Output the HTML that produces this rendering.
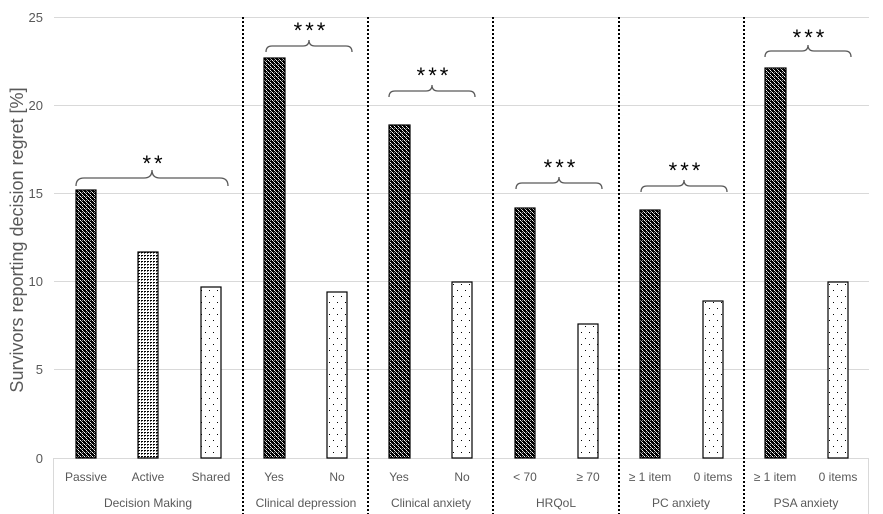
<!DOCTYPE html>
<html><head><meta charset="utf-8"><style>body{margin:0;background:#fff}svg{display:block}</style></head>
<body>
<svg width="883" height="514" viewBox="0 0 883 514" xmlns="http://www.w3.org/2000/svg" font-family="Liberation Sans, sans-serif">
<defs>
<pattern id="dk" width="4" height="4" patternUnits="userSpaceOnUse">
<rect width="4" height="4" fill="#000"/>
<rect x="0" y="0" width="1" height="1" fill="#fff"/><rect x="2" y="2" width="1" height="1" fill="#fff"/>
<rect x="1" y="1" width="1" height="1" fill="#bbb"/><rect x="3" y="3" width="1" height="1" fill="#bbb"/>
<rect x="2" y="0" width="1" height="1" fill="#888"/>
</pattern>
<pattern id="md" width="3" height="3" patternUnits="userSpaceOnUse">
<rect width="3" height="3" fill="#fff"/><rect width="2" height="1" fill="#000"/><rect y="1" width="1" height="1" fill="#666"/>
</pattern>
<pattern id="sp" width="8" height="12" patternUnits="userSpaceOnUse">
<rect width="8" height="12" fill="#fff"/><rect x="1" y="2" width="1" height="1" fill="#000"/><rect x="5" y="8" width="1" height="1" fill="#000"/>
</pattern>
</defs>
<g stroke="#d9d9d9" stroke-width="1">
<line x1="54" x2="869" y1="17.5" y2="17.5"/>
<line x1="54" x2="869" y1="105.5" y2="105.5"/>
<line x1="54" x2="869" y1="193.5" y2="193.5"/>
<line x1="54" x2="869" y1="281.5" y2="281.5"/>
<line x1="54" x2="869" y1="369.5" y2="369.5"/>
<line x1="54" x2="869" y1="458.5" y2="458.5"/>
<line x1="53.5" x2="53.5" y1="458" y2="514"/>
<line x1="868.5" x2="868.5" y1="458" y2="514"/>
</g>
<g fill="#595959" font-size="13" text-anchor="end">
<text x="43" y="22">25</text><text x="43" y="110">20</text><text x="43" y="198">15</text>
<text x="43" y="286">10</text><text x="43" y="374">5</text><text x="43" y="463">0</text>
</g>
<text transform="translate(23,240) rotate(-90)" text-anchor="middle" font-size="18" fill="#595959">Survivors reporting decision regret  [%]</text>
<g stroke="#000" stroke-width="2" stroke-dasharray="2,2">
<line x1="243" x2="243" y1="17" y2="514"/><line x1="368" x2="368" y1="17" y2="514"/>
<line x1="493" x2="493" y1="17" y2="514"/><line x1="619" x2="619" y1="17" y2="514"/>
<line x1="744" x2="744" y1="17" y2="514"/>
</g>
<g stroke="#000" stroke-width="1.2">
<rect x="76" y="190" width="20" height="268" fill="url(#dk)"/>
<rect x="138" y="252" width="20" height="206" fill="url(#md)"/>
<rect x="201" y="287" width="20" height="171" fill="url(#sp)"/>
<rect x="264" y="58" width="21" height="400" fill="url(#dk)"/>
<rect x="327" y="292" width="20" height="166" fill="url(#sp)"/>
<rect x="389" y="125" width="21" height="333" fill="url(#dk)"/>
<rect x="452" y="282" width="20" height="176" fill="url(#sp)"/>
<rect x="515" y="208" width="20" height="250" fill="url(#dk)"/>
<rect x="578" y="324" width="20" height="134" fill="url(#sp)"/>
<rect x="640" y="210" width="20" height="248" fill="url(#dk)"/>
<rect x="703" y="301" width="20" height="157" fill="url(#sp)"/>
<rect x="765" y="68" width="21" height="390" fill="url(#dk)"/>
<rect x="828" y="282" width="20" height="176" fill="url(#sp)"/>
</g>
<g fill="none" stroke="#595959" stroke-width="1.3">
<path d="M76,186 q0,-8 8,-8 h60 q8,0 8,-8 q0,8 8,8 h60 q8,0 8,8"/>
<path d="M266,52 q0,-6 6,-6 h31 q6,0 6,-6 q0,6 6,6 h31 q6,0 6,6"/>
<path d="M389,97 q0,-6 6,-6 h31 q6,0 6,-6 q0,6 6,6 h31 q6,0 6,6"/>
<path d="M516,189 q0,-6 6,-6 h31 q6,0 6,-6 q0,6 6,6 h31 q6,0 6,6"/>
<path d="M641,192 q0,-6 6,-6 h31 q6,0 6,-6 q0,6 6,6 h31 q6,0 6,6"/>
<path d="M765,57 q0,-6 6,-6 h31 q6,0 6,-6 q0,6 6,6 h31 q6,0 6,6"/>
</g>
<g font-size="22" text-anchor="middle" fill="#000" letter-spacing="3">
<text x="154" y="171">**</text><text x="311" y="38">***</text><text x="434" y="83">***</text>
<text x="561" y="175">***</text><text x="686" y="178">***</text><text x="810" y="45">***</text>
</g>
<g fill="#595959" font-size="12" text-anchor="middle">
<text x="86" y="481">Passive</text><text x="148" y="481">Active</text><text x="211" y="481">Shared</text>
<text x="274" y="481">Yes</text><text x="337" y="481">No</text>
<text x="399" y="481">Yes</text><text x="462" y="481">No</text>
<text x="525" y="481">&lt; 70</text><text x="588" y="481">≥ 70</text>
<text x="650" y="481">≥ 1 item</text><text x="713" y="481">0 items</text>
<text x="775" y="481">≥ 1 item</text><text x="838" y="481">0 items</text>
<text x="148" y="507">Decision Making</text><text x="306" y="507">Clinical depression</text>
<text x="431" y="507">Clinical anxiety</text><text x="556" y="507">HRQoL</text>
<text x="681" y="507">PC anxiety</text><text x="806" y="507">PSA anxiety</text>
</g>
</svg>
</body></html>
